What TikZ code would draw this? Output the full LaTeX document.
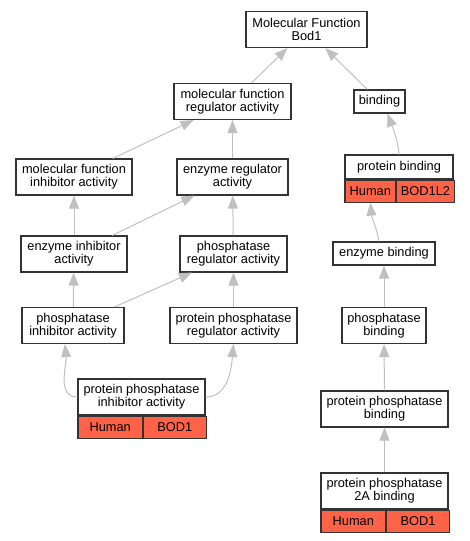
\documentclass[tikz,border=0pt]{standalone}
\usepackage{fontspec}
\setmainfont{Liberation Sans}
\usetikzlibrary{arrows.meta}
\definecolor{edgegray}{HTML}{C0C0C0}
\definecolor{orgred}{HTML}{FF6347}

\begin{document}
\begin{tikzpicture}[x=1pt, y=-1pt,
		term/.style={draw=black!80, line width=1.1pt, fill=white, align=center, inner sep=0pt,
			font=\fontsize{12.8}{13}\selectfont},
		two/.style={term, minimum height=36},
		one/.style={term, minimum height=23},
		org/.style={term, fill=orgred, minimum height=22, anchor=north west},
		isa/.style={color=edgegray, line width=1pt, -{Triangle[length=13pt, width=10pt]}}]
		\useasboundingbox (0,0) rectangle (469,541);

		% left branch
		\node [two, minimum width=121] (mf) at (306.5,29.5) {Molecular Function\\Bod1};
		\node [two, minimum width=117] (mfra) at (232.5,101.5) {molecular function\\regulator activity};
		\node [two, minimum width=116] (mfia) at (74,177) {molecular function\\inhibitor activity};
		\node [two, minimum width=111] (era) at (232.5,177) {enzyme regulator\\activity};
		\node [two, minimum width=106] (eia) at (74,254) {enzyme inhibitor\\activity};
		\node [two, minimum width=107] (pra) at (233.5,254) {phosphatase\\regulator activity};
		\node [two, minimum width=102] (pia) at (73,325.5) {phosphatase\\inhibitor activity};
		\node [two, minimum width=127] (ppra) at (233.5,325.5) {protein phosphatase\\regulator activity};
		\node [two, minimum width=127] (ppia) at (141.5,397) {protein phosphatase\\inhibitor activity};
		\node [org, minimum width=64.3] (ppiaH) at (ppia.south west) {Human};
		\node [org, minimum width=62.7] (ppiaB) at (ppiaH.north east) {BOD1};

		% right branch
		\node [one, minimum width=51] (bind) at (379.5,101.5) {binding};
		\node [term, minimum width=108, minimum height=24] (pb) at (399,167) {protein binding};
		\node [org, minimum width=50.7] (pbH) at (pb.south west) {Human};
		\node [org, minimum width=57.3] (pbB) at (pbH.north east) {BOD1L2};
		\node [one, minimum width=102] (eb) at (384,253.5) {enzyme binding};
		\node [two, minimum width=84] (phb) at (384,325.5) {phosphatase\\binding};
		\node [two, minimum width=127] (ppb) at (384.5,409) {protein phosphatase\\binding};
		\node [two, minimum width=127] (pp2a) at (384.5,491) {protein phosphatase\\2A binding};
		\node [org, minimum width=64.7] (pp2aH) at (pp2a.south west) {Human};
		\node [org, minimum width=62.3] (pp2aB) at (pp2aH.north east) {BOD1};

		\draw[isa] (mfra) -- (mf);
		\draw[isa] (bind) -- (mf);
		\draw[isa] (mfia) -- (mfra);
		\draw[isa] (era) -- (mfra);
		\draw[isa] (eia) -- (mfia);
		\draw[isa] (eia) -- (era);
		\draw[isa] (pra) -- (era);
		\draw[isa] (pia) -- (eia);
		\draw[isa] (pia) -- (pra);
		\draw[isa] (ppra) -- (pra);
		\draw[isa] (ppia.west) to [out=180, in=-85] ([xshift=-8pt]pia.south);
		\draw[isa] (ppia.east) to [out=0, in=-95] (ppra.south);
		\draw[isa] (pb.north) to [out=95, in=-70] ([xshift=8pt]bind.south);
		\draw[isa] ([xshift=-5pt]eb.north) to [out=100, in=-85] (pbH.south);
		\draw[isa] (phb) -- (eb);
		\draw[isa] (ppb) -- (phb);
		\draw[isa] (pp2a) -- (ppb);
	\end{tikzpicture}
\end{document}
